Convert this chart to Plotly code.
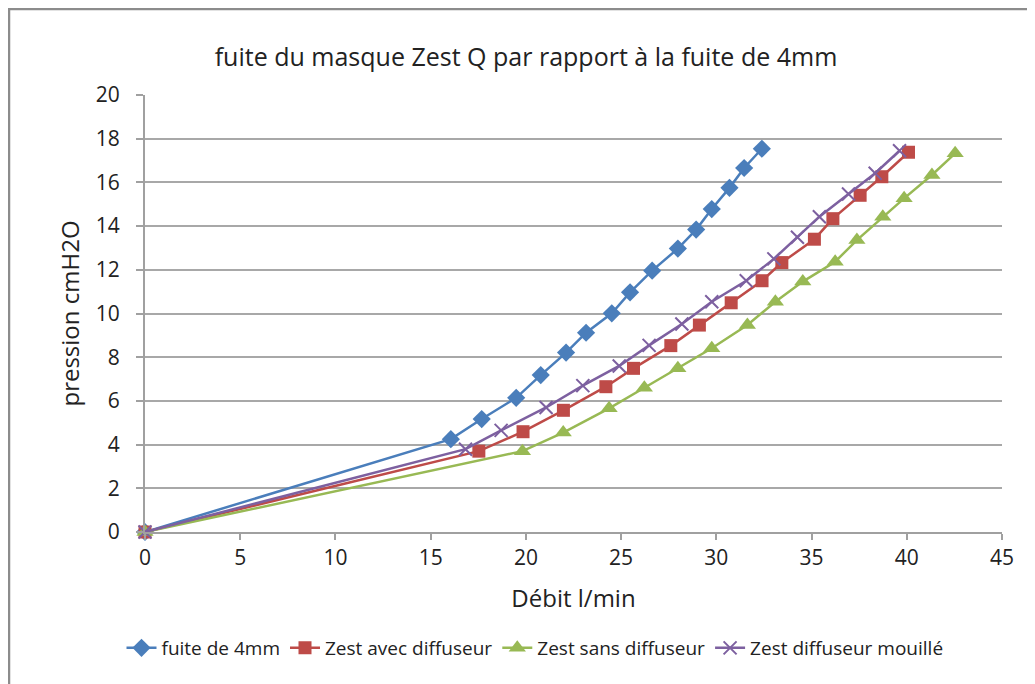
import plotly.graph_objects as go

# Data (Débit l/min, pression cmH2O)
fuite_x = [0, 16.06, 17.68, 19.49, 20.78, 22.11, 23.16, 24.51, 25.47, 26.63, 27.98, 28.94, 29.76, 30.69, 31.46, 32.39]
fuite_y = [0, 4.25, 5.17, 6.14, 7.18, 8.21, 9.12, 10.01, 10.97, 11.96, 12.97, 13.84, 14.78, 15.75, 16.66, 17.54]

avec_x = [0, 17.53, 19.85, 21.97, 24.2, 25.65, 27.61, 29.11, 30.78, 32.4, 33.44, 35.15, 36.12, 37.55, 38.69, 40.09]
avec_y = [0, 3.7, 4.59, 5.57, 6.65, 7.49, 8.53, 9.47, 10.49, 11.5, 12.33, 13.4, 14.34, 15.41, 16.26, 17.38]

sans_x = [0, 19.82, 21.96, 24.37, 26.22, 27.98, 29.76, 31.63, 33.1, 34.54, 36.24, 37.38, 38.74, 39.86, 41.32, 42.54]
sans_y = [0, 3.7, 4.55, 5.66, 6.6, 7.5, 8.41, 9.47, 10.54, 11.46, 12.37, 13.36, 14.43, 15.27, 16.34, 17.33]

mouille_x = [0, 16.83, 18.7, 21.06, 22.99, 24.9, 26.47, 28.19, 29.76, 31.57, 33.02, 34.26, 35.41, 36.94, 38.34, 39.62]
mouille_y = [0, 3.79, 4.65, 5.7, 6.7, 7.6, 8.54, 9.52, 10.54, 11.5, 12.5, 13.49, 14.43, 15.47, 16.42, 17.45]

names = ["fuite de 4mm", "Zest avec diffuseur", "Zest sans diffuseur", "Zest diffuseur mouillé"]
colors = ["#4A7EBB", "#BE4B48", "#98B954", "#7D60A0"]

fig = go.Figure()
fig.add_trace(go.Scatter(x=fuite_x, y=fuite_y, name=names[0], mode="lines+markers", cliponaxis=False,
                         line=dict(color=colors[0], width=2.5),
                         marker=dict(symbol="diamond", size=14, color=colors[0])))
fig.add_trace(go.Scatter(x=avec_x, y=avec_y, name=names[1], mode="lines+markers", cliponaxis=False,
                         line=dict(color=colors[1], width=2.5),
                         marker=dict(symbol="square", size=13, color=colors[1])))
fig.add_trace(go.Scatter(x=sans_x, y=sans_y, name=names[2], mode="lines+markers", cliponaxis=False,
                         line=dict(color=colors[2], width=2.5),
                         marker=dict(symbol="triangle-up", size=15, color=colors[2])))
fig.add_trace(go.Scatter(x=mouille_x, y=mouille_y, name=names[3], mode="lines+markers", cliponaxis=False,
                         line=dict(color=colors[3], width=2.5),
                         marker=dict(symbol="x-thin", size=13, color=colors[3],
                                     line=dict(color=colors[3], width=2))))

FONT = "Open Sans, Noto Sans, sans-serif"
tick_font = dict(family=FONT, size=21, color="#222222")

# page has an 8px body margin: figure is offset by 8px in both directions
W, H = 1027, 676
L, R, T, B = 137, 33, 87, 152

fig.update_layout(
    width=W, height=H,
    paper_bgcolor="white", plot_bgcolor="white",
    margin=dict(l=L, r=R, t=T, b=B),
    title=dict(text="fuite du masque Zest Q par rapport à la fuite de 4mm",
               x=518 / W, xref="container", xanchor="center",
               y=1 - 49 / H, yref="container", yanchor="middle",
               font=dict(family=FONT, size=25, color="#222222")),
    xaxis=dict(range=[0, 45], dtick=5, showgrid=False, zeroline=False,
               showline=True, linecolor="#A0A0A0", linewidth=2,
               ticks="outside", ticklen=6, tickcolor="#A0A0A0", tickwidth=1.5,
               ticklabelstandoff=0,
               tickfont=tick_font,
               title=dict(text="Débit l/min", standoff=20,
                          font=dict(family=FONT, size=24, color="#222222"))),
    yaxis=dict(range=[0, 20], dtick=2, showgrid=True, gridcolor="#A8A8A8", gridwidth=1.6,
               zeroline=False, showline=True, linecolor="#A0A0A0", linewidth=2,
               ticks="outside", ticklen=7, tickcolor="#A0A0A0", tickwidth=1.5,
               ticklabelstandoff=12,
               tickfont=tick_font,
               title=dict(text="pression cmH2O", standoff=9,
                          font=dict(family=FONT, size=24, color="#222222"))),
    legend=dict(orientation="h", x=527 / W, xref="container", xanchor="center",
                y=1 - 640 / H, yref="container", yanchor="middle",
                font=dict(family=FONT, size=19, color="#222222"),
                tracegroupgap=0),
    shapes=[dict(type="rect", xref="paper", yref="paper",
                 x0=(1 - L) / 857, x1=(W + 20 - L) / 857,
                 y0=(H - B - H - 20) / 437, y1=(H - B - 1) / 437,
                 line=dict(color="#8C8C8C", width=2.5), layer="below")],
)

fig.write_html("out.html")
